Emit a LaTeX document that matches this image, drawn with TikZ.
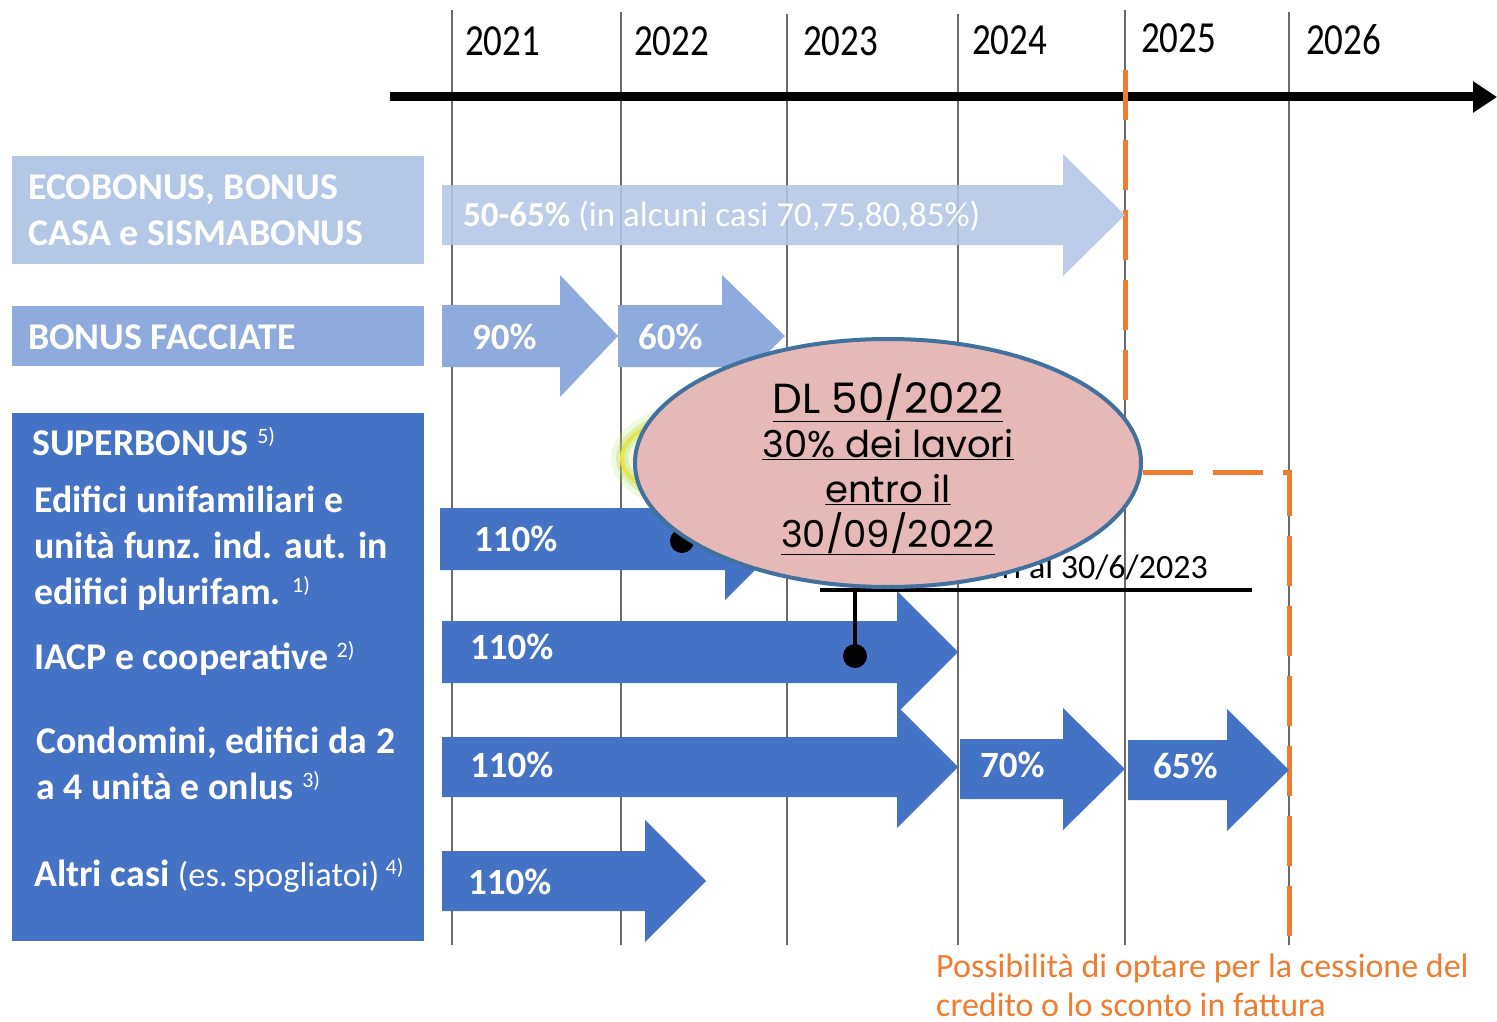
\documentclass[tikz,border=0pt]{standalone}
\usepackage{fontspec}
\setmainfont{Carlito}
\newfontfamily\popfont{Poppins}
\usetikzlibrary{arrows.meta,shapes.geometric}
\definecolor{ecoblue}{HTML}{B4C7E7}
\definecolor{facblue}{HTML}{8FAADC}
\definecolor{supblue}{HTML}{4472C4}
\definecolor{orng}{HTML}{ED7D31}
\definecolor{pinkfill}{HTML}{E6B8B7}
\definecolor{ellstroke}{HTML}{41719C}
\definecolor{gridgray}{HTML}{6A6A6A}
\definecolor{glowgreen}{HTML}{B5E05A}
\definecolor{glowyellow}{HTML}{E9E34F}
\newcommand{\fs}[1]{\fontsize{#1}{#1}\selectfont}
\newcommand{\supnote}[1]{{\mdseries\fs{22}\raisebox{12pt}{#1}}}
% style, x start, x head, x tip, y centre, half body height
\newcommand{\blockarrow}[6]{\fill[#1] (#2,#5-#6) -- (#3,#5-#6) -- (#3,#5-61) -- (#4,#5) -- (#3,#5+61) -- (#3,#5+#6) -- (#2,#5+#6) -- cycle;}
\begin{document}
\begin{tikzpicture}[x=1pt,y=-1pt,
  lbl/.style={anchor=base west, inner sep=0pt, text=white, font=\bfseries\fs{37.8}},
  arrlbl/.style={anchor=base west, inner sep=0pt, text=white, font=\bfseries\fs{37}},
  yearlbl/.style={anchor=base west, inner sep=0pt, font=\fs{37}},
  gridline/.style={gridgray, line width=1.3pt},
  boxnode/.style={anchor=north west, inner sep=0pt, minimum width=412pt},
  dltxt/.style={anchor=base, inner sep=0pt, font=\popfont\fs{37}},
  orangetxt/.style={anchor=base west, inner sep=0pt, text=orng, font=\fs{34}},
]
\useasboundingbox (0,0) rectangle (1497,1022);
\fill[white] (0,0) rectangle (1497,1022);

% grid lines
\foreach \gx/\gt in {452/10, 621/12, 787/14, 958/14, 1125/10, 1289/12}
  \draw[gridline] (\gx,\gt) -- (\gx,945);

% years
\node[yearlbl] (y2021) at (465,56) {\scalebox{1}[1.2]{2021}};
\node[yearlbl] (y2022) at (634,56) {\scalebox{1}[1.2]{2022}};
\node[yearlbl] (y2023) at (803,56) {\scalebox{1}[1.2]{2023}};
\node[yearlbl] (y2024) at (972,55) {\scalebox{1}[1.2]{2024}};
\node[yearlbl] (y2025) at (1141,53) {\scalebox{1}[1.2]{2025}};
\node[yearlbl] (y2026) at (1306,55) {\scalebox{1}[1.2]{2026}};

% timeline
\coordinate (tl0) at (390,97);
\coordinate (tl1) at (1497,97);
\draw[line width=9pt, -{Triangle[length=24pt,width=30pt]}] (tl0) -- (tl1);

% orange dashed boundary
\coordinate (or0) at (1125,70);
\coordinate (or1) at (1125,472);
\coordinate (or2) at (1289,472);
\coordinate (or3) at (1289,942);
\draw[orng, line width=5pt, dash pattern=on 50pt off 20pt] (or0) -- (or1) -- (or2) -- (or3);

% left boxes
\node[boxnode, fill=ecoblue, minimum height=108pt] (ecobox) at (12,156) {};
\node[boxnode, fill=facblue, minimum height=60pt] (facbox) at (12,306) {};
\node[boxnode, fill=supblue, minimum height=528pt] (supbox) at (12,413) {};

\node[lbl] (t1) at (28,200) {ECOBONUS, BONUS};
\node[lbl] (t2) at (28,245) {CASA e SISMABONUS};
\node[lbl] (t3) at (28,349) {BONUS FACCIATE};
\node[lbl] (t4) at (32,455) {SUPERBONUS \supnote{5)}};
\node[lbl] (t5) at (34,512) {Edifici unifamiliari e};
\node[lbl] (t6) at (34,558) {unità funz. ind. aut. in};
\node[lbl] (t7) at (34,604) {edifici plurifam. \supnote{1)}};
\node[lbl] (t8) at (34,669) {IACP e cooperative \supnote{2)}};
\node[lbl] (t9) at (36,753) {Condomini, edifici da 2};
\node[lbl] (t10) at (36,799) {a 4 unità e onlus \supnote{3)}};
\node[lbl] (t11) at (34,886) {Altri casi {\mdseries\fs{34.5}(es.\,spogliatoi)}\,\supnote{4)}};

% block arrows
\blockarrow{ecoblue, fill opacity=0.88}{442}{1063}{1125}{215}{30}
\blockarrow{facblue}{442}{560}{618}{336}{31}
\blockarrow{facblue}{618}{722}{785}{336}{31}
\blockarrow{supblue}{440}{725}{786}{539}{31}
\blockarrow{supblue}{442}{897}{958}{652}{31}
\blockarrow{supblue}{442}{897}{958}{767}{30}
\blockarrow{supblue}{960}{1063}{1125}{769}{30}
\blockarrow{supblue}{1128}{1227}{1289}{770}{30}
\blockarrow{supblue}{442}{645}{706}{881}{30}

\node[arrlbl, font=\fs{35}] (a1) at (463,226) {\textbf{50-65\%} (in alcuni casi 70,75,80,85\%)};
\node[arrlbl] (a2) at (472,349) {90\%};
\node[arrlbl] (a3) at (638,349) {60\%};
\node[arrlbl] (a4) at (474,551) {110\%};
\node[arrlbl] (a5) at (470,659) {110\%};
\node[arrlbl] (a6) at (470,777) {110\%};
\node[arrlbl] (a7) at (980,777) {70\%};
\node[arrlbl] (a8) at (1153,778) {65\%};
\node[arrlbl] (a9) at (468,894) {110\%};

% deadline marks
\coordinate (hl0) at (820,590);
\coordinate (hl1) at (1252,590);
\draw[line width=4pt] (hl0) -- (hl1);
\node[anchor=base east, inner sep=0pt, font=\fs{34}] (note) at (1208,578) {lavori al 30/6/2023};
\node[circle, fill=black, minimum size=24pt, inner sep=0pt] (dot2) at (855,656) {};
\coordinate (dot2top) at (855,590);
\draw[line width=4pt] (dot2.center) -- (dot2top);
\node[circle, fill=black, minimum size=24pt, inner sep=0pt] (dot1) at (682,541) {};

% glowing highlight behind the callout
\draw[glowgreen, opacity=0.2, line width=22pt] (722,458) ellipse [x radius=100pt, y radius=47pt];
\draw[glowgreen, opacity=0.35, line width=12pt] (722,458) ellipse [x radius=100pt, y radius=47pt];
\draw[glowyellow, line width=4pt] (722,458) ellipse [x radius=100pt, y radius=47pt];

% callout
\node[ellipse, draw=ellstroke, line width=4pt, fill=pinkfill, minimum width=506pt, minimum height=248pt, inner sep=0pt] (dl) at (888,463) {};
\node[dltxt, font=\popfont\fs{42}] (dl1) at (888,413) {\underline{DL 50/2022}};
\node[dltxt] (dl2) at (888,457) {\underline{30\% dei lavori}};
\node[dltxt] (dl3) at (888,502) {\underline{entro il}};
\node[dltxt] (dl4) at (888,547) {\underline{30/09/2022}};

% orange note
\node[orangetxt] (o1) at (936,977) {Possibilità di optare per la cessione del};
\node[orangetxt] (o2) at (936,1016) {credito o lo sconto in fattura};
\end{tikzpicture}
\end{document}
